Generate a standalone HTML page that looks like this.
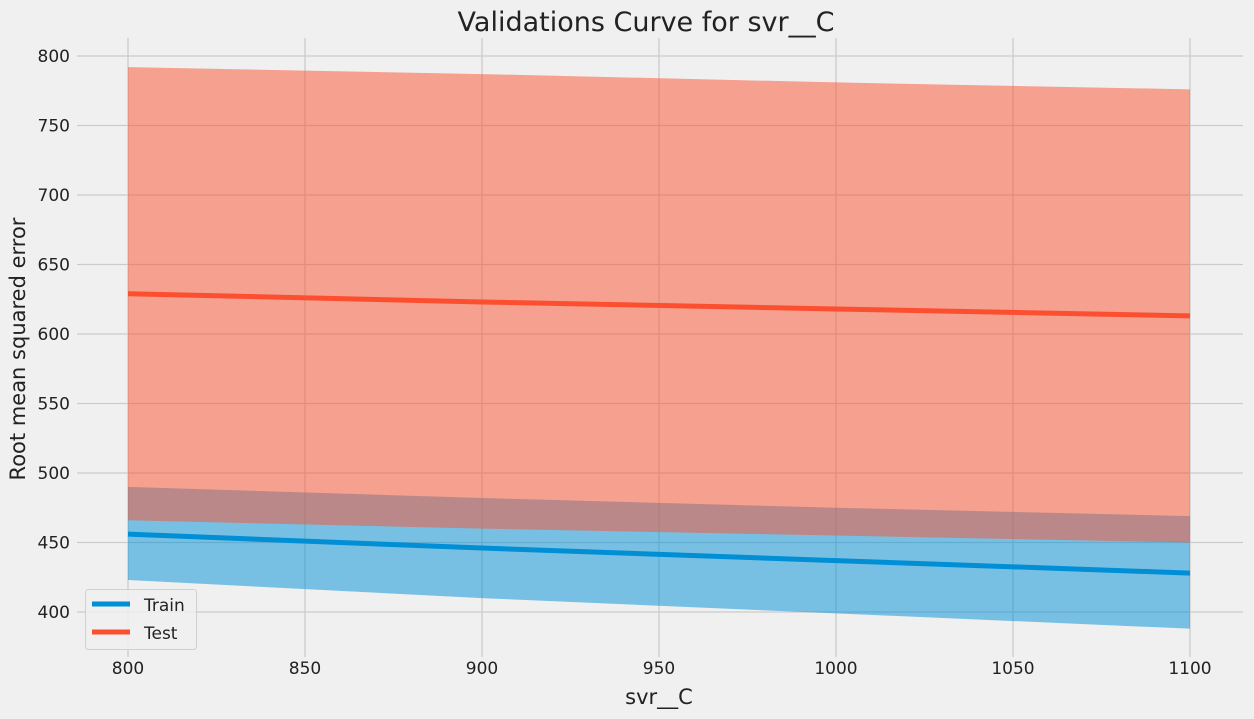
<!DOCTYPE html>
<html><head><meta charset="utf-8">
<style>
body{margin:0;background:#f0f0f0;}
svg{display:block;font-family:"DejaVu Sans","Liberation Sans",sans-serif;}
</style></head>
<body>
<svg id="chart" width="1254" height="719" viewBox="0 0 1254 719">
<rect width="1254" height="719" fill="#f0f0f0"/>
<g id="grid"></g>
<g id="bands"></g>
<g id="lines"></g>
<g id="ticks"></g>
<text x="646" y="31" text-anchor="middle" font-size="27" fill="#222">Validations Curve for svr__C</text>
<text x="659" y="704" text-anchor="middle" font-size="21" fill="#222">svr__C</text>
<text transform="translate(25,349) rotate(-90)" text-anchor="middle" font-size="21" fill="#222">Root mean squared error</text>
<g>
<rect x="85.5" y="589.5" width="111" height="60" rx="3" fill="#f0f0f0" fill-opacity="0.8" stroke="#d0d0d0"/>
<line x1="92" y1="604" x2="130" y2="604" stroke="#008fd5" stroke-width="5"/>
<text x="144" y="611" font-size="17" fill="#222">Train</text>
<line x1="92" y1="632" x2="130" y2="632" stroke="#fc4f30" stroke-width="5"/>
<text x="144" y="639" font-size="17" fill="#222">Test</text>
</g>
</svg>
<script>
const xValues=[800,900,1000,1100];
const trainMean=[456,446,437,428];
const trainUpper=[490,482,475,469];
const trainLower=[423,410,399,388];
const testMean=[629,623,618,613];
const testUpper=[792,787,781,776];
const testLower=[466,460,455,450];
const xTicks=[800,850,900,950,1000,1050,1100];
const yTicks=[400,450,500,550,600,650,700,750,800];

const NS="http://www.w3.org/2000/svg";
function X(v){return 128+(v-800)*(1190-128)/300;}
function Y(v){return 612-(v-400)*(612-56)/400;}
function mk(tag,attrs,parent){const e=document.createElementNS(NS,tag);for(const k in attrs)e.setAttribute(k,attrs[k]);parent.appendChild(e);return e;}
const grid=document.getElementById('grid'),ticks=document.getElementById('ticks');
xTicks.forEach(t=>{
  const l=mk('line',{x1:X(t),x2:X(t),y1:38,y2:657,stroke:'#cbcbcb','stroke-width':1.3},grid);
  
  
  const tx=mk('text',{x:X(t),y:674,'text-anchor':'middle','font-size':17,fill:'#222'},ticks);
  tx.textContent=t;
  
  
});
yTicks.forEach(t=>{
  const l=mk('line',{x1:77,x2:1243,y1:Y(t),y2:Y(t),stroke:'#cbcbcb','stroke-width':1.3},grid);
  
  
  const tx=mk('text',{x:70,y:Y(t)+6,'text-anchor':'end','font-size':17,fill:'#222'},ticks);
  tx.textContent=t;
  
  
});
function band(up,lo,color,name){
  let d='M'+xValues.map((x,i)=>X(x)+','+Y(up[i])).join('L');
  d+='L'+xValues.slice().reverse().map((x,j)=>X(x)+','+Y(lo[xValues.length-1-j])).join('L')+'Z';
  const p=mk('path',{d:d,fill:color,'fill-opacity':0.5},document.getElementById('bands'));
  
  
}
function line(vals,color,name){
  const p=mk('polyline',{points:xValues.map((x,i)=>X(x)+','+Y(vals[i])).join(' '),fill:'none',stroke:color,'stroke-width':5},document.getElementById('lines'));
  
  
}
band(trainUpper,trainLower,'#008fd5','train-band');
band(testUpper,testLower,'#fc4f30','test-band');
line(trainMean,'#008fd5','train-line');
line(testMean,'#fc4f30','test-line');
</script>
</body></html>
